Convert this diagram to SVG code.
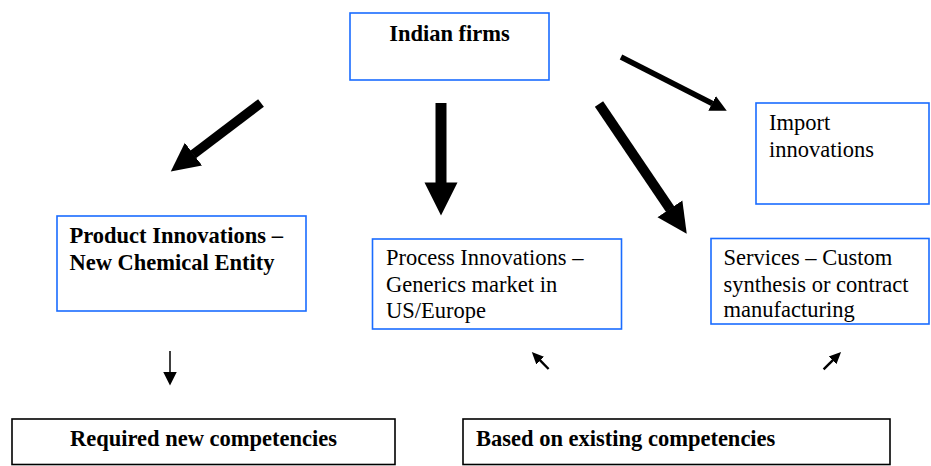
<svg xmlns="http://www.w3.org/2000/svg" width="931" height="466" viewBox="0 0 931 466">
<style>
  .blue { fill: #ffffff; stroke: #1a6cff; stroke-width: 1.6; }
  .black { fill: #ffffff; stroke: #000000; stroke-width: 1.6; }
  text { font-family: "Liberation Serif", "Times New Roman", serif; font-size: 22.5px; fill: #000000; }
  .b { font-weight: bold; }
  .c { text-anchor: middle; }
  .arrow { stroke: #000000; fill: none; stroke-linecap: butt; }
</style>
<defs>
  <marker id="head" markerUnits="strokeWidth" markerWidth="3.1" markerHeight="3.2" viewBox="0 -1.6 3.1 3.2" refX="0.05" refY="0" orient="auto">
    <path d="M0,-1.5 L3,0 L0,1.5 Z" fill="#000000"/>
  </marker>
  <marker id="small" markerUnits="userSpaceOnUse" markerWidth="15" markerHeight="16" viewBox="0 -8 15 16" refX="0.5" refY="0" orient="auto">
    <path d="M0,-7 L14,0 L0,7 Z" fill="#000000"/>
  </marker>
  <marker id="tiny" markerUnits="userSpaceOnUse" markerWidth="13" markerHeight="13" viewBox="0 -6.5 13 13" refX="0.5" refY="0" orient="auto">
    <path d="M0,-5.5 L12,0 L0,5.5 Z" fill="#000000"/>
  </marker>
</defs>

<g id="connectors">
  <line class="arrow" x1="261" y1="103" x2="193.1" y2="154.5" stroke-width="9.5" marker-end="url(#head)"/>
  <line class="arrow" x1="441" y1="103" x2="441" y2="183" stroke-width="11" marker-end="url(#head)"/>
  <line class="arrow" x1="599" y1="104" x2="670.2" y2="209.2" stroke-width="10" marker-end="url(#head)"/>
  <line class="arrow" x1="621" y1="57" x2="712.3" y2="103.5" stroke-width="5.5" marker-end="url(#head)"/>
  <line class="arrow" x1="170" y1="351" x2="170" y2="372" stroke-width="1.5" marker-end="url(#small)"/>
  <line class="arrow" x1="548.6" y1="369" x2="539.9" y2="360.2" stroke-width="2.4" marker-end="url(#tiny)"/>
  <line class="arrow" x1="823.6" y1="369.3" x2="832.9" y2="360.1" stroke-width="2.4" marker-end="url(#tiny)"/>
</g>

<g id="indian-firms">
  <rect class="blue" x="350" y="13" width="199" height="67"/>
  <text class="b c" x="449.5" y="41">Indian firms</text>
</g>

<g id="import-innovations">
  <rect class="blue" x="756" y="103" width="173" height="101"/>
  <text x="769" y="130">Import</text>
  <text x="769" y="156.5">innovations</text>
</g>

<g id="product-innovations">
  <rect class="blue" x="57" y="216" width="249" height="95"/>
  <text class="b" x="69.5" y="243">Product Innovations –</text>
  <text class="b" x="69.5" y="270">New Chemical Entity</text>
</g>

<g id="process-innovations">
  <rect class="blue" x="372.5" y="239" width="249" height="90"/>
  <text x="386" y="265">Process Innovations –</text>
  <text x="386" y="291.5">Generics market in</text>
  <text x="386" y="317.5">US/Europe</text>
</g>

<g id="services">
  <rect class="blue" x="711" y="238.5" width="218" height="85.5"/>
  <text x="723.5" y="265">Services – Custom</text>
  <text x="723.5" y="291.5">synthesis or contract</text>
  <text x="723.5" y="317">manufacturing</text>
</g>

<g id="required-new">
  <rect class="black" x="12" y="419" width="383" height="45.5"/>
  <text class="b c" x="203.5" y="446">Required new competencies</text>
</g>

<g id="based-existing">
  <rect class="black" x="463" y="419" width="427" height="45.5"/>
  <text class="b" x="476" y="446">Based on existing competencies</text>
</g>
</svg>
